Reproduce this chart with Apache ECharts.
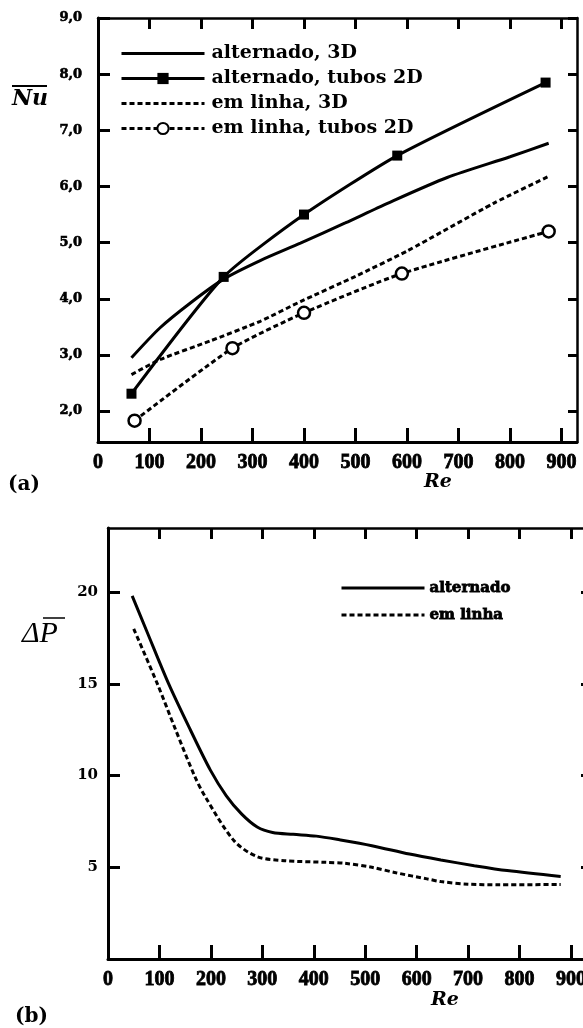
<!DOCTYPE html>
<html>
<head>
<meta charset="utf-8">
<script src="https://cdn.jsdelivr.net/npm/echarts@6/dist/echarts.min.js"></script>
<style>
  html, body { margin: 0; padding: 0; background: #fff; }
  #chart { width: 583px; height: 1028px; }
</style>
</head>
<body>
<div id="chart"></div>
<script>
// Tick values
const reTicks = [0, 100, 200, 300, 400, 500, 600, 700, 800, 900];
const nuTicks = [2, 3, 4, 5, 6, 7, 8, 9];
const dpTicks = [5, 10, 15, 20];

// (a) mean Nusselt number against Re  [Re, Nu]
const nuAlternado3D = [[65, 2.95], [120, 3.48], [180, 3.93], [244, 4.35], [315, 4.68], [393, 4.99], [480, 5.35], [562, 5.70], [678, 6.16], [800, 6.53], [875, 6.77]];
const nuAlternado2D = [[65, 2.31], [244, 4.39], [400, 5.50], [581, 6.55], [869, 7.85]];
const nuLinha3D = [[65, 2.65], [121, 2.92], [218, 3.25], [315, 3.60], [393, 3.95], [500, 4.40], [600, 4.85], [768, 5.70], [875, 6.18]];
const nuLinha2D = [[71, 1.83], [261, 3.12], [400, 3.75], [590, 4.45], [875, 5.20]];

// (b) mean pressure drop against Re  [Re, ΔP]
const dpAlternado = [[47, 19.8], [75, 17.9], [118, 15.0], [160, 12.5], [199, 10.3], [230, 8.9], [260, 7.9], [290, 7.2], [320, 6.9], [360, 6.8], [405, 6.7], [450, 6.5], [513, 6.18], [586, 5.72], [647, 5.4], [712, 5.09], [776, 4.82], [880, 4.5]];
const dpLinha = [[50, 18.0], [96, 15.0], [130, 12.6], [168, 10.0], [190, 8.8], [245, 6.45], [290, 5.58], [343, 5.36], [423, 5.27], [460, 5.22], [513, 5.0], [560, 4.7], [620, 4.37], [647, 4.22], [700, 4.08], [760, 4.05], [880, 4.06]];

const INK = '#000';
const DASH = [5, 3];

const chart = echarts.init(document.getElementById('chart'), null, { renderer: 'canvas' });

const xLabel = {
  color: INK, fontFamily: 'Liberation Serif', fontWeight: 'bold', fontSize: 20,
  textBorderColor: INK, textBorderWidth: 0.8, margin: 11, customValues: reTicks
};

function bottomX(grid, max) {
  return {
    type: 'value', gridIndex: grid, position: 'bottom', min: 0, max: max,
    axisLine: { onZero: false, lineStyle: { color: INK, width: 3 } },
    axisTick: { inside: true, length: 14, lineStyle: { color: INK, width: 3 }, customValues: reTicks.slice(1) },
    axisLabel: xLabel,
    splitLine: { show: false }
  };
}
function topX(grid, max) {
  return {
    type: 'value', gridIndex: grid, position: 'top', min: 0, max: max,
    axisLine: { onZero: false, lineStyle: { color: INK, width: 2.5 } },
    axisTick: { inside: true, length: 11, lineStyle: { color: INK, width: 3 }, customValues: reTicks.slice(1) },
    axisLabel: { show: false },
    splitLine: { show: false }
  };
}
function rightY(grid, min, max, ticks) {
  return {
    type: 'value', gridIndex: grid, position: 'right', min: min, max: max,
    axisLine: { show: true, onZero: false, lineStyle: { color: INK, width: 2.5 } },
    axisTick: { show: true, inside: true, length: 9, lineStyle: { color: INK, width: 3 }, customValues: ticks },
    axisLabel: { show: false },
    splitLine: { show: false }
  };
}

// legend entries for plain curves: line only, no marker
const noMarker = { color: 'rgba(0,0,0,0)', borderWidth: 0, opacity: 0 };

const option = {
  animation: false,
  backgroundColor: '#fff',
  grid: [
    { left: 98, top: 18, width: 479, height: 424, outerBoundsMode: 'none' },
    { left: 108, top: 528, width: 482, height: 431, outerBoundsMode: 'none' }
  ],
  xAxis: [bottomX(0, 930), topX(0, 930), bottomX(1, 937), topX(1, 937)],
  yAxis: [
    {
      type: 'value', gridIndex: 0, position: 'left', min: 1.45, max: 9,
      axisLine: { show: true, onZero: false, lineStyle: { color: INK, width: 3 } },
      axisTick: { show: true, inside: true, length: 12, lineStyle: { color: INK, width: 3 }, customValues: nuTicks },
      axisLabel: {
        customValues: nuTicks, margin: 16, color: INK,
        fontFamily: 'DejaVu Serif', fontWeight: 'bold', fontSize: 13,
        textBorderColor: INK, textBorderWidth: 0.6,
        formatter: v => v.toFixed(1).replace('.', ',')
      },
      splitLine: { show: false }
    },
    rightY(0, 1.45, 9, nuTicks),
    {
      type: 'value', gridIndex: 1, position: 'left', min: 0, max: 23.5,
      axisLine: { show: true, onZero: false, lineStyle: { color: INK, width: 3 } },
      axisTick: { show: true, inside: true, length: 12, lineStyle: { color: INK, width: 3 }, customValues: dpTicks },
      axisLabel: {
        customValues: dpTicks, margin: 10, color: INK,
        fontFamily: 'DejaVu Serif', fontWeight: 'bold', fontSize: 15
      },
      splitLine: { show: false }
    },
    rightY(1, 0, 23.5, dpTicks)
  ],
  legend: [
    {
      left: 115, top: 39, orient: 'vertical', itemWidth: 83, itemHeight: 14, itemGap: 6,
      selectedMode: false,
      lineStyle: { width: 3 },
      data: [
        { name: 'alternado, 3D', itemStyle: noMarker },
        'alternado, tubos 2D',
        { name: 'em linha, 3D', itemStyle: noMarker },
        'em linha, tubos 2D'
      ],
      textStyle: {
        color: INK, fontFamily: 'DejaVu Serif', fontWeight: 'bold', fontSize: 19,
        lineHeight: 19, padding: [0, 0, 0, 2]
      }
    },
    {
      left: 335, top: 574, orient: 'vertical', itemWidth: 83, itemHeight: 14, itemGap: 9,
      selectedMode: false,
      lineStyle: { width: 3 },
      data: [
        { name: 'alternado', itemStyle: noMarker },
        { name: 'em linha', itemStyle: noMarker }
      ],
      textStyle: {
        color: INK, fontFamily: 'DejaVu Serif', fontWeight: 'bold', fontSize: 15,
        lineHeight: 18, padding: [0, 0, 0, 0], textBorderColor: INK, textBorderWidth: 0.8
      }
    }
  ],
  series: [
    {
      name: 'alternado, 3D', type: 'line', xAxisIndex: 0, yAxisIndex: 0,
      data: nuAlternado3D, symbol: 'none', smooth: 0.25,
      lineStyle: { color: INK, width: 3 }, itemStyle: { color: INK }
    },
    {
      name: 'alternado, tubos 2D', type: 'line', xAxisIndex: 0, yAxisIndex: 0,
      data: nuAlternado2D, symbol: 'rect', symbolSize: 10, smooth: 0.2,
      lineStyle: { color: INK, width: 3 }, itemStyle: { color: INK }
    },
    {
      name: 'em linha, 3D', type: 'line', xAxisIndex: 0, yAxisIndex: 0,
      data: nuLinha3D, symbol: 'none', smooth: 0.2,
      lineStyle: { color: INK, width: 3, type: DASH }, itemStyle: { color: INK }
    },
    {
      name: 'em linha, tubos 2D', type: 'line', xAxisIndex: 0, yAxisIndex: 0,
      data: nuLinha2D, symbol: 'circle', symbolSize: 12, smooth: 0.2,
      lineStyle: { color: INK, width: 3, type: DASH },
      itemStyle: { color: '#fff', borderColor: INK, borderWidth: 2.5 }
    },
    {
      name: 'alternado', type: 'line', xAxisIndex: 2, yAxisIndex: 2,
      data: dpAlternado, symbol: 'none', smooth: 0.3,
      lineStyle: { color: INK, width: 3 }, itemStyle: { color: INK }
    },
    {
      name: 'em linha', type: 'line', xAxisIndex: 2, yAxisIndex: 2,
      data: dpLinha, symbol: 'none', smooth: 0.3,
      lineStyle: { color: INK, width: 3, type: DASH }, itemStyle: { color: INK }
    }
  ],
  graphic: [
    // axis titles and panel tags
    { type: 'text', x: 12, y: 99, style: { text: 'Nu', font: 'italic bold 22px "DejaVu Serif"', fill: INK, verticalAlign: 'middle' } },
    { type: 'line', shape: { x1: 12, y1: 86, x2: 47, y2: 86 }, style: { stroke: INK, lineWidth: 2 } },
    { type: 'text', x: 22, y: 634, style: { text: 'ΔP', font: 'italic 30px "Liberation Serif"', fill: INK, verticalAlign: 'middle' } },
    { type: 'line', shape: { x1: 43, y1: 618, x2: 65, y2: 618 }, style: { stroke: INK, lineWidth: 1.5 } },
    { type: 'text', x: 424, y: 482, style: { text: 'Re', font: 'italic bold 19px "DejaVu Serif"', fill: INK, verticalAlign: 'middle' } },
    { type: 'text', x: 431, y: 1000, style: { text: 'Re', font: 'italic bold 19px "DejaVu Serif"', fill: INK, verticalAlign: 'middle' } },
    { type: 'text', x: 8, y: 485, style: { text: '(a)', font: 'bold 20px "DejaVu Serif"', fill: INK, verticalAlign: 'middle' } },
    { type: 'text', x: 15, y: 1017, style: { text: '(b)', font: 'bold 20px "DejaVu Serif"', fill: INK, verticalAlign: 'middle' } }
  ]
};

chart.setOption(option);
</script>
</body>
</html>
